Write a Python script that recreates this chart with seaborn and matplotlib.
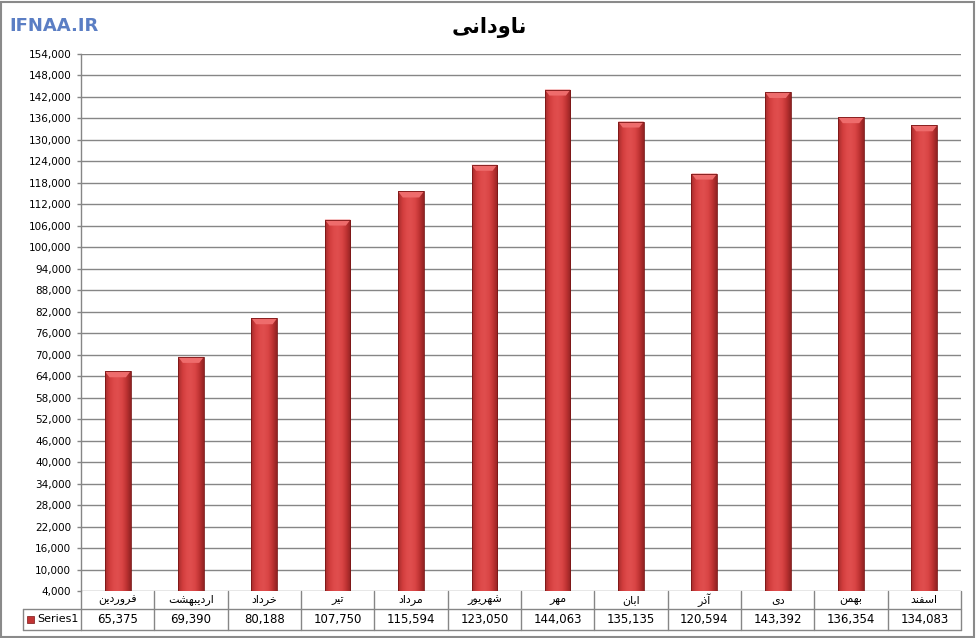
import numpy as np
import pandas as pd
import seaborn as sns
import matplotlib.pyplot as plt
from matplotlib.patches import Rectangle, Polygon
from matplotlib.colors import LinearSegmentedColormap
import matplotlib.transforms as mtransforms

# data
months = ['فروردین', 'اردیبهشت', 'خرداد', 'تیر', 'مرداد', 'شهریور',
          'مهر', 'ابان', 'آذر', 'دی', 'بهمن', 'اسفند']
values = [65375, 69390, 80188, 107750, 115594, 123050,
          144063, 135135, 120594, 143392, 136354, 134083]
series_name = 'Series1'
title = 'ناودانی'
yticks = list(range(4000, 154001, 6000))

# matplotlib has no arabic shaping, so pick presentation forms by hand
# (iso, fin, ini, med)
FORMS = {
    'ا': (0xFE8D, 0xFE8E, None, None),
    'آ': (0xFE81, 0xFE82, None, None),
    'ب': (0xFE8F, 0xFE90, 0xFE91, 0xFE92),
    'ت': (0xFE95, 0xFE96, 0xFE97, 0xFE98),
    'خ': (0xFEA5, 0xFEA6, 0xFEA7, 0xFEA8),
    'د': (0xFEA9, 0xFEAA, None, None),
    'ذ': (0xFEAB, 0xFEAC, None, None),
    'ر': (0xFEAD, 0xFEAE, None, None),
    'ز': (0xFEAF, 0xFEB0, None, None),
    'س': (0xFEB1, 0xFEB2, 0xFEB3, 0xFEB4),
    'ش': (0xFEB5, 0xFEB6, 0xFEB7, 0xFEB8),
    'ف': (0xFED1, 0xFED2, 0xFED3, 0xFED4),
    'ق': (0xFED5, 0xFED6, 0xFED7, 0xFED8),
    'م': (0xFEE1, 0xFEE2, 0xFEE3, 0xFEE4),
    'ن': (0xFEE5, 0xFEE6, 0xFEE7, 0xFEE8),
    'ه': (0xFEE9, 0xFEEA, 0xFEEB, 0xFEEC),
    'و': (0xFEED, 0xFEEE, None, None),
    'ی': (0xFEEF, 0xFEF0, 0xFEF3, 0xFEF4),
}


def shape(s):
    out = []
    for i, ch in enumerate(s):
        f = FORMS.get(ch)
        if f is None:
            out.append(ch)
            continue
        prev = s[i - 1] if i > 0 else None
        nxt = s[i + 1] if i + 1 < len(s) else None
        jp = prev in FORMS and FORMS[prev][2] is not None
        jn = f[2] is not None and nxt in FORMS
        if jp and jn:
            code = f[3]
        elif jp:
            code = f[1]
        elif jn:
            code = f[2]
        else:
            code = f[0]
        out.append(chr(code))
    return ''.join(out)[::-1]


sns.set_style('white')
plt.rcParams['font.family'] = ['DejaVu Sans']
plt.rcParams['text.color'] = 'black'
plt.rcParams['ytick.color'] = 'black'
plt.rcParams['xtick.color'] = 'black'

df = pd.DataFrame({'month': months, 'value': values})

fig = plt.figure(figsize=(9.76, 6.38), dpi=100)
ax = fig.add_axes([81 / 976, 1 - 591 / 638, 880 / 976, 537 / 638])

sns.barplot(data=df, x='month', y='value', order=months, color='#d84545',
            width=0.35, saturation=1, ax=ax, zorder=3)

ymin, ymax = 4000, 154000
ax.set_ylim(ymin, ymax)
ax.set_xlim(-0.5, len(months) - 0.5)
ax.set_yticks(yticks)
ax.set_yticklabels([f'{v:,}' for v in yticks], fontsize=7.5)
ax.set_xticks([])
ax.set_xlabel('')
ax.set_ylabel('')
ax.grid(axis='y', color='#868686', lw=1, zorder=0)
ax.tick_params(axis='y', length=3, width=1, color='#868686', labelcolor='black',
               pad=4, left=True)
for side in ['top', 'right', 'bottom']:
    ax.spines[side].set_visible(False)
ax.spines['left'].set_color('#868686')
ax.spines['left'].set_linewidth(1)

# cylinder-ish shading on the bars
cmap = LinearSegmentedColormap.from_list(
    'bar', ['#a52c2c', '#d03c3c', '#de4a4a', '#e04e4e', '#d94545', '#bf3333', '#922222'])
grad = np.linspace(0, 1, 64).reshape(1, -1)
px_y = 6000 / 21.5
for p in list(ax.patches):
    x0, y0 = p.get_x(), max(p.get_y(), ymin)
    w = p.get_width()
    y1 = p.get_y() + p.get_height()
    im = ax.imshow(grad, cmap=cmap, extent=(x0, x0 + w, y0, y1),
                   aspect='auto', zorder=3.5, interpolation='bicubic')
    im.set_clip_path(p)
    bev = 6 * px_y
    dx = w * 0.18
    top = Polygon([[x0, y1], [x0 + w, y1],
                   [x0 + w - dx, y1 - bev], [x0 + dx, y1 - bev]],
                  closed=True, fc='#ee6c6c', ec='none', zorder=4)
    ax.add_patch(top)
    p.set_edgecolor('#7a1616')
    p.set_linewidth(0.6)
    p.set_zorder(4.5)
    p.set_facecolor('none')

ax.set_ylim(ymin, ymax)
ax.set_xlim(-0.5, len(months) - 0.5)

# data table below the plot
tr = mtransforms.blended_transform_factory(ax.transData, ax.transAxes)
r1 = -18 / 537
r2 = -39 / 537
lab_left = (23 - 81) / 880
line_kw = dict(color='#868686', lw=1, clip_on=False)
for i in range(len(months) + 1):
    ax.plot([i - 0.5, i - 0.5], [0, r2], transform=tr, **line_kw)
ax.plot([-0.5, len(months) - 0.5], [r1, r1], transform=tr, **line_kw)
ax.plot([-0.5, len(months) - 0.5], [r2, r2], transform=tr, **line_kw)
ax.plot([lab_left, 0], [r1, r1], transform=ax.transAxes, **line_kw)
ax.plot([lab_left, 0], [r2, r2], transform=ax.transAxes, **line_kw)
ax.plot([lab_left, lab_left], [r1, r2], transform=ax.transAxes, **line_kw)

for i, (m, v) in enumerate(zip(months, values)):
    ax.text(i, r1 / 2, shape(m), transform=tr, ha='center', va='center',
            fontsize=8, clip_on=False)
    ax.text(i, (r1 + r2) / 2, f'{v:,}', transform=tr, ha='center',
            va='center', fontsize=8.5, clip_on=False)

ax.add_patch(Rectangle((lab_left + 4 / 880, (r1 + r2) / 2 - 3.5 / 537),
                       7 / 880, 7 / 537, transform=ax.transAxes,
                       fc='#c23434', ec='#7a1616', lw=0.5, clip_on=False))
ax.text(lab_left + 14 / 880, (r1 + r2) / 2, series_name,
        transform=ax.transAxes, ha='left', va='center', fontsize=8,
        clip_on=False)

# title, watermark, outer frame
fig.text(489 / 976, 1 - 27 / 638, shape(title), ha='center', va='center',
         fontsize=15, fontweight='bold', color='black')
fig.text(9 / 976, 1 - 26 / 638, 'IFNAA.IR', ha='left', va='center',
         fontsize=13, fontweight='bold', color='#5b7ec4')
fig.patches.append(Rectangle((1 / 976, 1 / 638), 973 / 976, 635 / 638,
                             transform=fig.transFigure, fill=False,
                             ec='#8a8a8a', lw=1.5))

fig.savefig('out.png', dpi=100)
